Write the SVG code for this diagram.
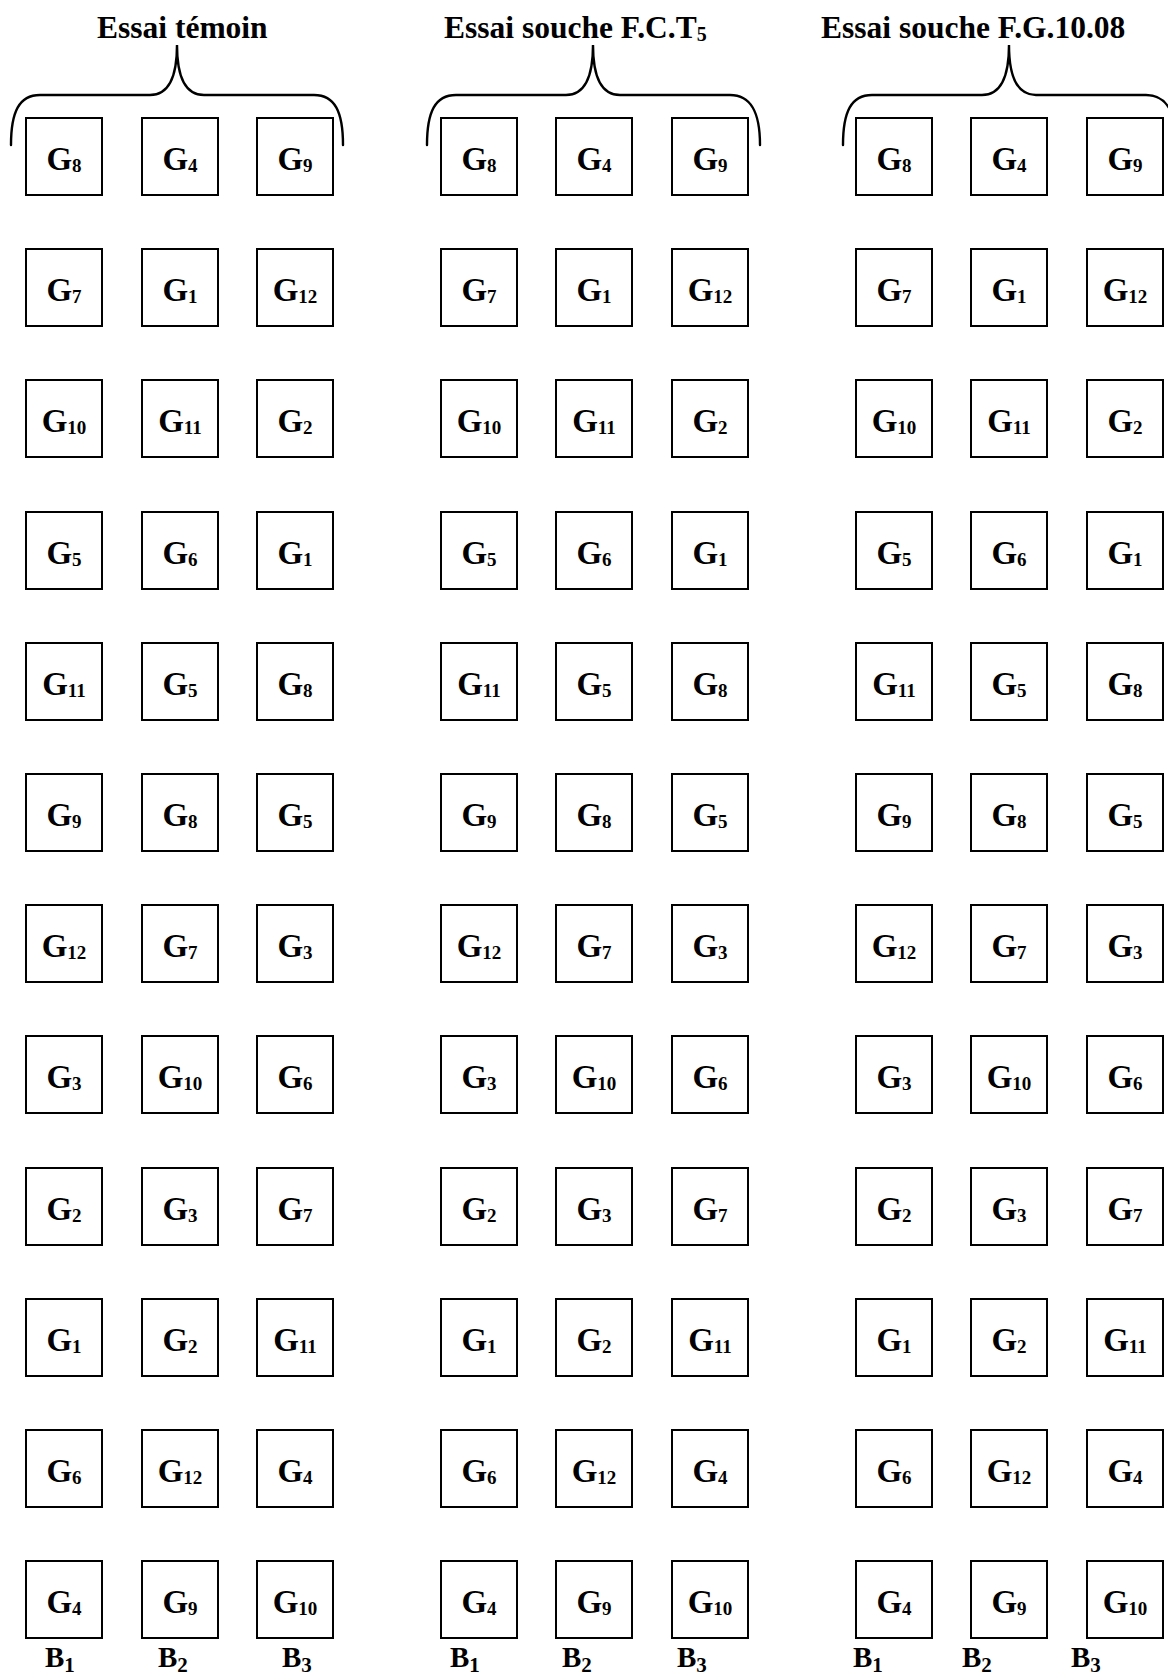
<svg xmlns="http://www.w3.org/2000/svg" width="1168" height="1674" viewBox="0 0 1168 1674">
<style>
.bg{fill:#fff}
.box{fill:#fff;stroke:#000;stroke-width:2}
.brace{fill:none;stroke:#000;stroke-width:2.4;stroke-linecap:round}
.lbl{font-family:"Liberation Serif","Times New Roman",serif;font-weight:bold;font-size:33px;fill:#000;text-anchor:middle}
.sub{font-size:19px}
.title{font-family:"Liberation Serif","Times New Roman",serif;font-weight:bold;font-size:31.5px;fill:#000}
.tsub{font-size:20px}
.blk{font-family:"Liberation Serif","Times New Roman",serif;font-weight:bold;font-size:29px;fill:#000}
.bsub{font-size:21px}
</style>
<rect class="bg" x="0" y="0" width="1168" height="1674"/>
<g id="titles">
<text class="title" x="97" y="38">Essai témoin</text>
<text class="title" x="444" y="38">Essai souche F.C.T<tspan class="tsub" dy="3">5</tspan></text>
<text class="title" x="821" y="38">Essai souche F.G.10.08</text>
</g>
<g id="connectors">
<path class="brace" d="M 11 145 C 11 112 19 95 40 95 L 150 95 C 168 95 177 78 177 45 C 177 78 186 95 204 95 L 314 95 C 335 95 343 112 343 145"/>
<path class="brace" d="M 427 145 C 427 112 435 95 456 95 L 566 95 C 584 95 593 78 593 45 C 593 78 602 95 620 95 L 730 95 C 751 95 760 112 760 145"/>
<path class="brace" d="M 843 145 C 843 112 851 95 872 95 L 982 95 C 1000 95 1009 78 1009 45 C 1009 78 1018 95 1036 95 L 1146 95 C 1167 95 1176 112 1176 145"/>
</g>
<g id="temoin">
<g id="t-r1-c1"><rect class="box" x="26" y="118" width="76" height="77"/><text class="lbl" x="64" y="170">G<tspan class="sub" dy="2">8</tspan></text></g>
<g id="t-r1-c2"><rect class="box" x="142" y="118" width="76" height="77"/><text class="lbl" x="180" y="170">G<tspan class="sub" dy="2">4</tspan></text></g>
<g id="t-r1-c3"><rect class="box" x="257" y="118" width="76" height="77"/><text class="lbl" x="295" y="170">G<tspan class="sub" dy="2">9</tspan></text></g>
<g id="t-r2-c1"><rect class="box" x="26" y="249" width="76" height="77"/><text class="lbl" x="64" y="301">G<tspan class="sub" dy="2">7</tspan></text></g>
<g id="t-r2-c2"><rect class="box" x="142" y="249" width="76" height="77"/><text class="lbl" x="180" y="301">G<tspan class="sub" dy="2">1</tspan></text></g>
<g id="t-r2-c3"><rect class="box" x="257" y="249" width="76" height="77"/><text class="lbl" x="295" y="301">G<tspan class="sub" dy="2">12</tspan></text></g>
<g id="t-r3-c1"><rect class="box" x="26" y="380" width="76" height="77"/><text class="lbl" x="64" y="432">G<tspan class="sub" dy="2">10</tspan></text></g>
<g id="t-r3-c2"><rect class="box" x="142" y="380" width="76" height="77"/><text class="lbl" x="180" y="432">G<tspan class="sub" dy="2">11</tspan></text></g>
<g id="t-r3-c3"><rect class="box" x="257" y="380" width="76" height="77"/><text class="lbl" x="295" y="432">G<tspan class="sub" dy="2">2</tspan></text></g>
<g id="t-r4-c1"><rect class="box" x="26" y="512" width="76" height="77"/><text class="lbl" x="64" y="564">G<tspan class="sub" dy="2">5</tspan></text></g>
<g id="t-r4-c2"><rect class="box" x="142" y="512" width="76" height="77"/><text class="lbl" x="180" y="564">G<tspan class="sub" dy="2">6</tspan></text></g>
<g id="t-r4-c3"><rect class="box" x="257" y="512" width="76" height="77"/><text class="lbl" x="295" y="564">G<tspan class="sub" dy="2">1</tspan></text></g>
<g id="t-r5-c1"><rect class="box" x="26" y="643" width="76" height="77"/><text class="lbl" x="64" y="695">G<tspan class="sub" dy="2">11</tspan></text></g>
<g id="t-r5-c2"><rect class="box" x="142" y="643" width="76" height="77"/><text class="lbl" x="180" y="695">G<tspan class="sub" dy="2">5</tspan></text></g>
<g id="t-r5-c3"><rect class="box" x="257" y="643" width="76" height="77"/><text class="lbl" x="295" y="695">G<tspan class="sub" dy="2">8</tspan></text></g>
<g id="t-r6-c1"><rect class="box" x="26" y="774" width="76" height="77"/><text class="lbl" x="64" y="826">G<tspan class="sub" dy="2">9</tspan></text></g>
<g id="t-r6-c2"><rect class="box" x="142" y="774" width="76" height="77"/><text class="lbl" x="180" y="826">G<tspan class="sub" dy="2">8</tspan></text></g>
<g id="t-r6-c3"><rect class="box" x="257" y="774" width="76" height="77"/><text class="lbl" x="295" y="826">G<tspan class="sub" dy="2">5</tspan></text></g>
<g id="t-r7-c1"><rect class="box" x="26" y="905" width="76" height="77"/><text class="lbl" x="64" y="957">G<tspan class="sub" dy="2">12</tspan></text></g>
<g id="t-r7-c2"><rect class="box" x="142" y="905" width="76" height="77"/><text class="lbl" x="180" y="957">G<tspan class="sub" dy="2">7</tspan></text></g>
<g id="t-r7-c3"><rect class="box" x="257" y="905" width="76" height="77"/><text class="lbl" x="295" y="957">G<tspan class="sub" dy="2">3</tspan></text></g>
<g id="t-r8-c1"><rect class="box" x="26" y="1036" width="76" height="77"/><text class="lbl" x="64" y="1088">G<tspan class="sub" dy="2">3</tspan></text></g>
<g id="t-r8-c2"><rect class="box" x="142" y="1036" width="76" height="77"/><text class="lbl" x="180" y="1088">G<tspan class="sub" dy="2">10</tspan></text></g>
<g id="t-r8-c3"><rect class="box" x="257" y="1036" width="76" height="77"/><text class="lbl" x="295" y="1088">G<tspan class="sub" dy="2">6</tspan></text></g>
<g id="t-r9-c1"><rect class="box" x="26" y="1168" width="76" height="77"/><text class="lbl" x="64" y="1220">G<tspan class="sub" dy="2">2</tspan></text></g>
<g id="t-r9-c2"><rect class="box" x="142" y="1168" width="76" height="77"/><text class="lbl" x="180" y="1220">G<tspan class="sub" dy="2">3</tspan></text></g>
<g id="t-r9-c3"><rect class="box" x="257" y="1168" width="76" height="77"/><text class="lbl" x="295" y="1220">G<tspan class="sub" dy="2">7</tspan></text></g>
<g id="t-r10-c1"><rect class="box" x="26" y="1299" width="76" height="77"/><text class="lbl" x="64" y="1351">G<tspan class="sub" dy="2">1</tspan></text></g>
<g id="t-r10-c2"><rect class="box" x="142" y="1299" width="76" height="77"/><text class="lbl" x="180" y="1351">G<tspan class="sub" dy="2">2</tspan></text></g>
<g id="t-r10-c3"><rect class="box" x="257" y="1299" width="76" height="77"/><text class="lbl" x="295" y="1351">G<tspan class="sub" dy="2">11</tspan></text></g>
<g id="t-r11-c1"><rect class="box" x="26" y="1430" width="76" height="77"/><text class="lbl" x="64" y="1482">G<tspan class="sub" dy="2">6</tspan></text></g>
<g id="t-r11-c2"><rect class="box" x="142" y="1430" width="76" height="77"/><text class="lbl" x="180" y="1482">G<tspan class="sub" dy="2">12</tspan></text></g>
<g id="t-r11-c3"><rect class="box" x="257" y="1430" width="76" height="77"/><text class="lbl" x="295" y="1482">G<tspan class="sub" dy="2">4</tspan></text></g>
<g id="t-r12-c1"><rect class="box" x="26" y="1561" width="76" height="77"/><text class="lbl" x="64" y="1613">G<tspan class="sub" dy="2">4</tspan></text></g>
<g id="t-r12-c2"><rect class="box" x="142" y="1561" width="76" height="77"/><text class="lbl" x="180" y="1613">G<tspan class="sub" dy="2">9</tspan></text></g>
<g id="t-r12-c3"><rect class="box" x="257" y="1561" width="76" height="77"/><text class="lbl" x="295" y="1613">G<tspan class="sub" dy="2">10</tspan></text></g>
</g>
<g id="fct5">
<g id="c-r1-c1"><rect class="box" x="441" y="118" width="76" height="77"/><text class="lbl" x="479" y="170">G<tspan class="sub" dy="2">8</tspan></text></g>
<g id="c-r1-c2"><rect class="box" x="556" y="118" width="76" height="77"/><text class="lbl" x="594" y="170">G<tspan class="sub" dy="2">4</tspan></text></g>
<g id="c-r1-c3"><rect class="box" x="672" y="118" width="76" height="77"/><text class="lbl" x="710" y="170">G<tspan class="sub" dy="2">9</tspan></text></g>
<g id="c-r2-c1"><rect class="box" x="441" y="249" width="76" height="77"/><text class="lbl" x="479" y="301">G<tspan class="sub" dy="2">7</tspan></text></g>
<g id="c-r2-c2"><rect class="box" x="556" y="249" width="76" height="77"/><text class="lbl" x="594" y="301">G<tspan class="sub" dy="2">1</tspan></text></g>
<g id="c-r2-c3"><rect class="box" x="672" y="249" width="76" height="77"/><text class="lbl" x="710" y="301">G<tspan class="sub" dy="2">12</tspan></text></g>
<g id="c-r3-c1"><rect class="box" x="441" y="380" width="76" height="77"/><text class="lbl" x="479" y="432">G<tspan class="sub" dy="2">10</tspan></text></g>
<g id="c-r3-c2"><rect class="box" x="556" y="380" width="76" height="77"/><text class="lbl" x="594" y="432">G<tspan class="sub" dy="2">11</tspan></text></g>
<g id="c-r3-c3"><rect class="box" x="672" y="380" width="76" height="77"/><text class="lbl" x="710" y="432">G<tspan class="sub" dy="2">2</tspan></text></g>
<g id="c-r4-c1"><rect class="box" x="441" y="512" width="76" height="77"/><text class="lbl" x="479" y="564">G<tspan class="sub" dy="2">5</tspan></text></g>
<g id="c-r4-c2"><rect class="box" x="556" y="512" width="76" height="77"/><text class="lbl" x="594" y="564">G<tspan class="sub" dy="2">6</tspan></text></g>
<g id="c-r4-c3"><rect class="box" x="672" y="512" width="76" height="77"/><text class="lbl" x="710" y="564">G<tspan class="sub" dy="2">1</tspan></text></g>
<g id="c-r5-c1"><rect class="box" x="441" y="643" width="76" height="77"/><text class="lbl" x="479" y="695">G<tspan class="sub" dy="2">11</tspan></text></g>
<g id="c-r5-c2"><rect class="box" x="556" y="643" width="76" height="77"/><text class="lbl" x="594" y="695">G<tspan class="sub" dy="2">5</tspan></text></g>
<g id="c-r5-c3"><rect class="box" x="672" y="643" width="76" height="77"/><text class="lbl" x="710" y="695">G<tspan class="sub" dy="2">8</tspan></text></g>
<g id="c-r6-c1"><rect class="box" x="441" y="774" width="76" height="77"/><text class="lbl" x="479" y="826">G<tspan class="sub" dy="2">9</tspan></text></g>
<g id="c-r6-c2"><rect class="box" x="556" y="774" width="76" height="77"/><text class="lbl" x="594" y="826">G<tspan class="sub" dy="2">8</tspan></text></g>
<g id="c-r6-c3"><rect class="box" x="672" y="774" width="76" height="77"/><text class="lbl" x="710" y="826">G<tspan class="sub" dy="2">5</tspan></text></g>
<g id="c-r7-c1"><rect class="box" x="441" y="905" width="76" height="77"/><text class="lbl" x="479" y="957">G<tspan class="sub" dy="2">12</tspan></text></g>
<g id="c-r7-c2"><rect class="box" x="556" y="905" width="76" height="77"/><text class="lbl" x="594" y="957">G<tspan class="sub" dy="2">7</tspan></text></g>
<g id="c-r7-c3"><rect class="box" x="672" y="905" width="76" height="77"/><text class="lbl" x="710" y="957">G<tspan class="sub" dy="2">3</tspan></text></g>
<g id="c-r8-c1"><rect class="box" x="441" y="1036" width="76" height="77"/><text class="lbl" x="479" y="1088">G<tspan class="sub" dy="2">3</tspan></text></g>
<g id="c-r8-c2"><rect class="box" x="556" y="1036" width="76" height="77"/><text class="lbl" x="594" y="1088">G<tspan class="sub" dy="2">10</tspan></text></g>
<g id="c-r8-c3"><rect class="box" x="672" y="1036" width="76" height="77"/><text class="lbl" x="710" y="1088">G<tspan class="sub" dy="2">6</tspan></text></g>
<g id="c-r9-c1"><rect class="box" x="441" y="1168" width="76" height="77"/><text class="lbl" x="479" y="1220">G<tspan class="sub" dy="2">2</tspan></text></g>
<g id="c-r9-c2"><rect class="box" x="556" y="1168" width="76" height="77"/><text class="lbl" x="594" y="1220">G<tspan class="sub" dy="2">3</tspan></text></g>
<g id="c-r9-c3"><rect class="box" x="672" y="1168" width="76" height="77"/><text class="lbl" x="710" y="1220">G<tspan class="sub" dy="2">7</tspan></text></g>
<g id="c-r10-c1"><rect class="box" x="441" y="1299" width="76" height="77"/><text class="lbl" x="479" y="1351">G<tspan class="sub" dy="2">1</tspan></text></g>
<g id="c-r10-c2"><rect class="box" x="556" y="1299" width="76" height="77"/><text class="lbl" x="594" y="1351">G<tspan class="sub" dy="2">2</tspan></text></g>
<g id="c-r10-c3"><rect class="box" x="672" y="1299" width="76" height="77"/><text class="lbl" x="710" y="1351">G<tspan class="sub" dy="2">11</tspan></text></g>
<g id="c-r11-c1"><rect class="box" x="441" y="1430" width="76" height="77"/><text class="lbl" x="479" y="1482">G<tspan class="sub" dy="2">6</tspan></text></g>
<g id="c-r11-c2"><rect class="box" x="556" y="1430" width="76" height="77"/><text class="lbl" x="594" y="1482">G<tspan class="sub" dy="2">12</tspan></text></g>
<g id="c-r11-c3"><rect class="box" x="672" y="1430" width="76" height="77"/><text class="lbl" x="710" y="1482">G<tspan class="sub" dy="2">4</tspan></text></g>
<g id="c-r12-c1"><rect class="box" x="441" y="1561" width="76" height="77"/><text class="lbl" x="479" y="1613">G<tspan class="sub" dy="2">4</tspan></text></g>
<g id="c-r12-c2"><rect class="box" x="556" y="1561" width="76" height="77"/><text class="lbl" x="594" y="1613">G<tspan class="sub" dy="2">9</tspan></text></g>
<g id="c-r12-c3"><rect class="box" x="672" y="1561" width="76" height="77"/><text class="lbl" x="710" y="1613">G<tspan class="sub" dy="2">10</tspan></text></g>
</g>
<g id="fg1008">
<g id="g-r1-c1"><rect class="box" x="856" y="118" width="76" height="77"/><text class="lbl" x="894" y="170">G<tspan class="sub" dy="2">8</tspan></text></g>
<g id="g-r1-c2"><rect class="box" x="971" y="118" width="76" height="77"/><text class="lbl" x="1009" y="170">G<tspan class="sub" dy="2">4</tspan></text></g>
<g id="g-r1-c3"><rect class="box" x="1087" y="118" width="76" height="77"/><text class="lbl" x="1125" y="170">G<tspan class="sub" dy="2">9</tspan></text></g>
<g id="g-r2-c1"><rect class="box" x="856" y="249" width="76" height="77"/><text class="lbl" x="894" y="301">G<tspan class="sub" dy="2">7</tspan></text></g>
<g id="g-r2-c2"><rect class="box" x="971" y="249" width="76" height="77"/><text class="lbl" x="1009" y="301">G<tspan class="sub" dy="2">1</tspan></text></g>
<g id="g-r2-c3"><rect class="box" x="1087" y="249" width="76" height="77"/><text class="lbl" x="1125" y="301">G<tspan class="sub" dy="2">12</tspan></text></g>
<g id="g-r3-c1"><rect class="box" x="856" y="380" width="76" height="77"/><text class="lbl" x="894" y="432">G<tspan class="sub" dy="2">10</tspan></text></g>
<g id="g-r3-c2"><rect class="box" x="971" y="380" width="76" height="77"/><text class="lbl" x="1009" y="432">G<tspan class="sub" dy="2">11</tspan></text></g>
<g id="g-r3-c3"><rect class="box" x="1087" y="380" width="76" height="77"/><text class="lbl" x="1125" y="432">G<tspan class="sub" dy="2">2</tspan></text></g>
<g id="g-r4-c1"><rect class="box" x="856" y="512" width="76" height="77"/><text class="lbl" x="894" y="564">G<tspan class="sub" dy="2">5</tspan></text></g>
<g id="g-r4-c2"><rect class="box" x="971" y="512" width="76" height="77"/><text class="lbl" x="1009" y="564">G<tspan class="sub" dy="2">6</tspan></text></g>
<g id="g-r4-c3"><rect class="box" x="1087" y="512" width="76" height="77"/><text class="lbl" x="1125" y="564">G<tspan class="sub" dy="2">1</tspan></text></g>
<g id="g-r5-c1"><rect class="box" x="856" y="643" width="76" height="77"/><text class="lbl" x="894" y="695">G<tspan class="sub" dy="2">11</tspan></text></g>
<g id="g-r5-c2"><rect class="box" x="971" y="643" width="76" height="77"/><text class="lbl" x="1009" y="695">G<tspan class="sub" dy="2">5</tspan></text></g>
<g id="g-r5-c3"><rect class="box" x="1087" y="643" width="76" height="77"/><text class="lbl" x="1125" y="695">G<tspan class="sub" dy="2">8</tspan></text></g>
<g id="g-r6-c1"><rect class="box" x="856" y="774" width="76" height="77"/><text class="lbl" x="894" y="826">G<tspan class="sub" dy="2">9</tspan></text></g>
<g id="g-r6-c2"><rect class="box" x="971" y="774" width="76" height="77"/><text class="lbl" x="1009" y="826">G<tspan class="sub" dy="2">8</tspan></text></g>
<g id="g-r6-c3"><rect class="box" x="1087" y="774" width="76" height="77"/><text class="lbl" x="1125" y="826">G<tspan class="sub" dy="2">5</tspan></text></g>
<g id="g-r7-c1"><rect class="box" x="856" y="905" width="76" height="77"/><text class="lbl" x="894" y="957">G<tspan class="sub" dy="2">12</tspan></text></g>
<g id="g-r7-c2"><rect class="box" x="971" y="905" width="76" height="77"/><text class="lbl" x="1009" y="957">G<tspan class="sub" dy="2">7</tspan></text></g>
<g id="g-r7-c3"><rect class="box" x="1087" y="905" width="76" height="77"/><text class="lbl" x="1125" y="957">G<tspan class="sub" dy="2">3</tspan></text></g>
<g id="g-r8-c1"><rect class="box" x="856" y="1036" width="76" height="77"/><text class="lbl" x="894" y="1088">G<tspan class="sub" dy="2">3</tspan></text></g>
<g id="g-r8-c2"><rect class="box" x="971" y="1036" width="76" height="77"/><text class="lbl" x="1009" y="1088">G<tspan class="sub" dy="2">10</tspan></text></g>
<g id="g-r8-c3"><rect class="box" x="1087" y="1036" width="76" height="77"/><text class="lbl" x="1125" y="1088">G<tspan class="sub" dy="2">6</tspan></text></g>
<g id="g-r9-c1"><rect class="box" x="856" y="1168" width="76" height="77"/><text class="lbl" x="894" y="1220">G<tspan class="sub" dy="2">2</tspan></text></g>
<g id="g-r9-c2"><rect class="box" x="971" y="1168" width="76" height="77"/><text class="lbl" x="1009" y="1220">G<tspan class="sub" dy="2">3</tspan></text></g>
<g id="g-r9-c3"><rect class="box" x="1087" y="1168" width="76" height="77"/><text class="lbl" x="1125" y="1220">G<tspan class="sub" dy="2">7</tspan></text></g>
<g id="g-r10-c1"><rect class="box" x="856" y="1299" width="76" height="77"/><text class="lbl" x="894" y="1351">G<tspan class="sub" dy="2">1</tspan></text></g>
<g id="g-r10-c2"><rect class="box" x="971" y="1299" width="76" height="77"/><text class="lbl" x="1009" y="1351">G<tspan class="sub" dy="2">2</tspan></text></g>
<g id="g-r10-c3"><rect class="box" x="1087" y="1299" width="76" height="77"/><text class="lbl" x="1125" y="1351">G<tspan class="sub" dy="2">11</tspan></text></g>
<g id="g-r11-c1"><rect class="box" x="856" y="1430" width="76" height="77"/><text class="lbl" x="894" y="1482">G<tspan class="sub" dy="2">6</tspan></text></g>
<g id="g-r11-c2"><rect class="box" x="971" y="1430" width="76" height="77"/><text class="lbl" x="1009" y="1482">G<tspan class="sub" dy="2">12</tspan></text></g>
<g id="g-r11-c3"><rect class="box" x="1087" y="1430" width="76" height="77"/><text class="lbl" x="1125" y="1482">G<tspan class="sub" dy="2">4</tspan></text></g>
<g id="g-r12-c1"><rect class="box" x="856" y="1561" width="76" height="77"/><text class="lbl" x="894" y="1613">G<tspan class="sub" dy="2">4</tspan></text></g>
<g id="g-r12-c2"><rect class="box" x="971" y="1561" width="76" height="77"/><text class="lbl" x="1009" y="1613">G<tspan class="sub" dy="2">9</tspan></text></g>
<g id="g-r12-c3"><rect class="box" x="1087" y="1561" width="76" height="77"/><text class="lbl" x="1125" y="1613">G<tspan class="sub" dy="2">10</tspan></text></g>
</g>
<g id="block-labels">
<text class="blk" x="45" y="1667">B<tspan class="bsub" dy="5">1</tspan></text>
<text class="blk" x="158" y="1667">B<tspan class="bsub" dy="5">2</tspan></text>
<text class="blk" x="282" y="1667">B<tspan class="bsub" dy="5">3</tspan></text>
<text class="blk" x="450" y="1667">B<tspan class="bsub" dy="5">1</tspan></text>
<text class="blk" x="562" y="1667">B<tspan class="bsub" dy="5">2</tspan></text>
<text class="blk" x="677" y="1667">B<tspan class="bsub" dy="5">3</tspan></text>
<text class="blk" x="853" y="1667">B<tspan class="bsub" dy="5">1</tspan></text>
<text class="blk" x="962" y="1667">B<tspan class="bsub" dy="5">2</tspan></text>
<text class="blk" x="1071" y="1667">B<tspan class="bsub" dy="5">3</tspan></text>
</g>
</svg>
